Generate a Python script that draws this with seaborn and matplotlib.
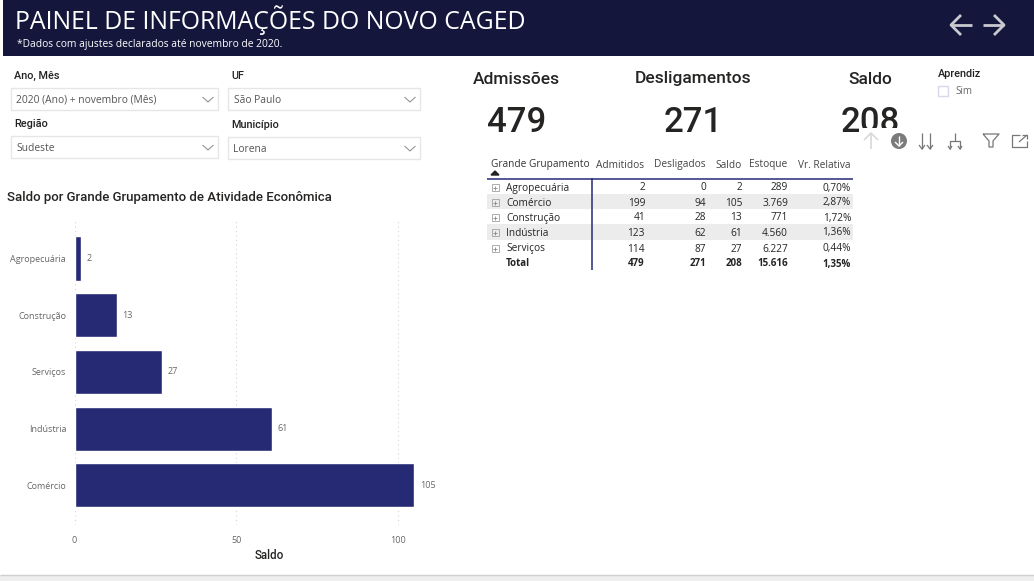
import matplotlib
matplotlib.use('Agg')
import matplotlib.pyplot as plt
from matplotlib.patches import Rectangle, Circle
import pandas as pd
import seaborn as sns

W, H = 1034, 581
NAVY = '#14163c'
BAR = '#262a75'
BODY = 'Open Sans'
HEAD = 'Roboto'

# table data
rows = [
    ('Agropecuária', 2, 0, 2, '289', '0,70%'),
    ('Comércio', 199, 94, 105, '3.769', '2,87%'),
    ('Construção', 41, 28, 13, '771', '1,72%'),
    ('Indústria', 123, 62, 61, '4.560', '1,36%'),
    ('Serviços', 114, 87, 27, '6.227', '0,44%'),
]
total = ('Total', 479, 271, 208, '15.616', '1,35%')
df = pd.DataFrame(rows, columns=['Grupo', 'Admitidos', 'Desligados', 'Saldo', 'Estoque', 'Vr. Relativa'])
df_bar = df.sort_values('Saldo')

sns.set_theme(style='white')
plt.rcParams['font.family'] = [BODY, 'DejaVu Sans']
fig = plt.figure(figsize=(W / 100, H / 100), dpi=100, facecolor='white')

# pixel canvas for the dashboard chrome
bg = fig.add_axes([0, 0, 1, 1])
bg.set_xlim(0, W)
bg.set_ylim(H, 0)
bg.axis('off')


def txt(x, y, s, size=7.0, color='#444444', ha='left', family=BODY, weight='normal', zorder=5):
    bg.text(x, y, s, fontsize=size, color=color, ha=ha, va='center', family=family, fontweight=weight, zorder=zorder)


def line(xs, ys, color='#999999', lw=1.0, zorder=5):
    bg.plot(xs, ys, color=color, lw=lw, solid_capstyle='butt', zorder=zorder)


# header
bg.add_patch(Rectangle((3, 0), W - 3, 56, fc=NAVY, ec='none'))
txt(15, 20.5, 'PAINEL DE INFORMAÇÕES DO NOVO CAGED', 17.9, 'white')
txt(17, 44, '*Dados com ajustes declarados até novembro de 2020.', 7.4, 'white')
for x0, x1, d in [(972, 951, 1), (983, 1004, -1)]:
    line([x0, x1], [25, 25], '#c9c9d0', 2)
    line([x1 + 10 * d, x1, x1 + 10 * d], [15, 25, 35], '#c9c9d0', 2)

# bottom strip
bg.add_patch(Rectangle((0, 575), W, 6, fc='#eeeeee', ec='none'))
line([0, W], [575, 575], '#cfcfcf', 1)

# slicers
slicers = [
    (13, 'Ano, Mês', 76, 88, 110, '2020 (Ano) + novembro (Mês)', 217.5),
    (230, 'UF', 76, 88, 110, 'São Paulo', 419.5),
    (13, 'Região', 124, 136, 158, 'Sudeste', 217.5),
    (230, 'Município', 125, 137, 159, 'Lorena', 419.5),
]
for x, label, ly, top, bot, value, right in slicers:
    txt(x + 1, ly, label, 7.8, '#222222', family=HEAD, weight='medium')
    bg.add_patch(Rectangle((x - 2, top), right - x + 2, bot - top, fc='white', ec='#e6e6e6', lw=1))
    txt(x + 3.5, (top + bot) / 2 + 1.5, value, 7.4, '#555555')
    cx = right - 9.5
    cy = (top + bot) / 2 + 0.5
    line([cx - 5.5, cx, cx + 5.5], [cy - 2.5, cy + 2.5, cy - 2.5], '#888888', 0.7)

# KPI cards
for cx, title, value in [(516.5, 'Admissões', '479'), (693.5, 'Desligamentos', '271'), (870.5, 'Saldo', '208')]:
    txt(cx, 79, title, 12.5, '#252423', ha='center', family=HEAD, weight='medium')
    txt(cx, 123, value, 25, '#252423', ha='center', family=HEAD, weight='medium')
bg.add_patch(Rectangle((859, 128), 44, 14, fc='white', ec='none', zorder=6))

# aprendiz slicer
txt(938, 74, 'Aprendiz', 7.8, '#222222', family=HEAD, weight='medium')
bg.add_patch(Rectangle((938, 86), 10, 10, fc='white', ec='#d5d9e8', lw=1))
txt(955, 91.5, 'Sim', 7.0, '#666666')

# visual header icons
line([871, 871], [133, 149], '#d8d8d8', 1.2, 7)
line([864, 871, 878], [140, 133, 140], '#d8d8d8', 1.2, 7)
bg.add_patch(Circle((899, 141), 8, fc='#7b7b7b', ec='none', zorder=7))
line([899, 899], [136, 146], 'white', 1, 8)
line([895, 899, 903], [142, 146, 142], 'white', 1, 8)
for x in (922, 930):
    line([x, x], [133, 149], '#777777', 0.9, 7)
    line([x - 3, x, x + 3], [145, 149, 145], '#777777', 0.9, 7)
line([955, 955], [133, 141], '#777777', 0.9, 7)
line([950, 950, 960, 960], [149, 141, 141, 149], '#777777', 0.9, 7)
line([948, 950, 952], [146, 149, 146], '#777777', 0.9, 7)
line([958, 960, 962], [146, 149, 146], '#777777', 0.9, 7)
line([983, 999, 993, 993, 989, 989, 983], [134, 134, 141, 147, 147, 141, 134], '#777777', 0.9, 7)
line([1020, 1012, 1012, 1027, 1027], [135, 135, 147, 147, 141], '#777777', 0.9, 7)
line([1019, 1027], [142, 135], '#777777', 0.9, 7)
line([1022, 1027, 1027], [135, 135, 139], '#777777', 0.9, 7)

# matrix table
col_right = [645, 706, 742, 788, 851]
row_y = [187.5, 202.5, 217.5, 232.5, 248.5]
for y0, y1 in [(194, 209), (224, 240)]:
    bg.add_patch(Rectangle((487, y0), 366, y1 - y0, fc='#ececec', ec='none', zorder=1))
txt(491, 165, 'Grande Grupamento', 7.3, '#333333')
for x, c in zip(col_right, df.columns[1:]):
    txt(x - 0.5, 165, c, 7.3, '#444444', ha='right')
bg.fill([491, 495, 499], [175, 171, 175], color='#222222', zorder=5)
line([487, 853], [178.5, 178.5], BAR, 1.1)
line([591.5, 591.5], [178, 270], BAR, 1.1)
for y, row in zip(row_y, rows):
    bg.add_patch(Rectangle((491.5, y - 3.5), 7, 7, fc='none', ec='#a0a0a0', lw=0.6))
    line([493, 497], [y, y], '#888888', 0.6)
    line([495, 495], [y - 2, y + 2], '#888888', 0.6)
    txt(506, y + 0.5, row[0], 7.3, '#252423')
    for x, v in zip(col_right, row[1:]):
        txt(x, y + 0.5, str(v), 7.3, '#252423', ha='right')
txt(506, 264, total[0], 7.0, '#252423', weight='bold')
for x, v in zip(col_right, total[1:]):
    txt(x, 264, str(v), 7.0, '#252423', ha='right', weight='bold')

# bar chart
txt(7, 197, 'Saldo por Grande Grupamento de Atividade Econômica', 9.5, '#252423', family=HEAD, weight='medium')

left, right, top, bottom = 74.5, 440, 220, 525
ax = fig.add_axes([left / W, 1 - bottom / H, (right - left) / W, (bottom - top) / H])
ax.patch.set_alpha(0)
sns.barplot(data=df_bar, x='Saldo', y='Grupo', color=BAR, width=0.78, saturation=1, ax=ax, zorder=3)
ax.set_xlim(0, (right - left) / 3.235)
ax.set_ylim(4.70, -0.68)
ax.set_xticks([0, 50, 100])
ax.grid(axis='x', color='#d4d4d4', linestyle=(0, (1, 3)), linewidth=0.8, zorder=0)
ax.set_axisbelow(True)
sns.despine(ax=ax, left=True, bottom=True, top=True, right=True)
ax.tick_params(axis='both', length=0, labelsize=6.5, labelcolor='#666666')
ax.tick_params(axis='y', pad=6)
ax.tick_params(axis='x', pad=8)
ax.set_ylabel('')
ax.set_xlabel('Saldo', fontsize=8.4, color='#252423', family=HEAD, fontweight='medium')
ax.xaxis.set_label_coords((269 - left) / (right - left), -0.078)
for cont in ax.containers:
    ax.bar_label(cont, padding=4, fontsize=6.5, color='#666666')

fig.savefig('out.png', dpi=100)
